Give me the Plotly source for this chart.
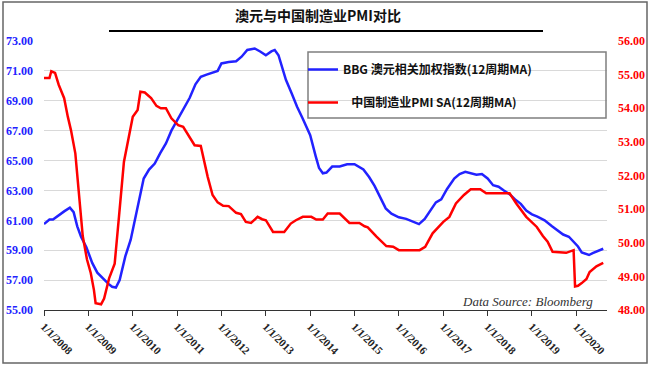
import plotly.graph_objects as go

# ---- Data ----
aud_dates = [
    "2008-01-01", "2008-02-15", "2008-03-15", "2008-05-01", "2008-06-15", "2008-08-01",
    "2008-09-01", "2008-10-01", "2008-11-01", "2008-12-15", "2009-02-01", "2009-03-15",
    "2009-05-01", "2009-06-15", "2009-07-15", "2009-08-15", "2009-09-15", "2009-11-01",
    "2009-12-15", "2010-02-01", "2010-03-01", "2010-04-01", "2010-05-15", "2010-07-01",
    "2010-08-15", "2010-10-01", "2010-11-15", "2011-01-01", "2011-02-15", "2011-04-15",
    "2011-06-01", "2011-07-15", "2011-09-01", "2011-11-01", "2011-12-01", "2012-01-01",
    "2012-03-01", "2012-05-01", "2012-06-15", "2012-08-01", "2012-10-01", "2012-11-15",
    "2013-01-01", "2013-02-15", "2013-03-15", "2013-04-15", "2013-05-15", "2013-06-15",
    "2013-08-01", "2013-09-15", "2013-11-01", "2014-01-01", "2014-02-15", "2014-03-15",
    "2014-04-15", "2014-05-15", "2014-07-01", "2014-09-01", "2014-11-01", "2015-01-01",
    "2015-03-15", "2015-05-01", "2015-06-15", "2015-08-01", "2015-09-15", "2015-11-01",
    "2016-01-01", "2016-03-01", "2016-04-15", "2016-06-15", "2016-08-01", "2016-09-15",
    "2016-11-01", "2016-12-15", "2017-02-01", "2017-04-01", "2017-05-15", "2017-07-01",
    "2017-08-15", "2017-10-01", "2017-11-15", "2018-01-01", "2018-02-15", "2018-04-01",
    "2018-05-15", "2018-07-01", "2018-08-15", "2018-10-01", "2018-11-15", "2019-01-01",
    "2019-02-15", "2019-04-15", "2019-06-15", "2019-08-01", "2019-09-15", "2019-11-01",
    "2019-12-15", "2020-01-15", "2020-02-15", "2020-04-15", "2020-05-15", "2020-07-01",
    "2020-08-10",
]
aud_values = [
    60.75, 61.05, 61.05, 61.35, 61.6, 61.85,
    61.55, 60.6, 59.9, 59.2, 58.15, 57.5,
    57.1, 56.75, 56.55, 56.5, 57.0, 58.6,
    59.7, 61.5, 62.6, 63.8, 64.4, 64.8,
    65.5, 66.15, 67.0, 67.7, 68.3, 69.2,
    70.1, 70.6, 70.75, 70.95, 71.0, 71.5,
    71.6, 71.65, 71.95, 72.4, 72.5, 72.3,
    72.05, 72.3, 72.4, 72.05, 71.2, 70.4,
    69.5, 68.6, 67.8, 66.7, 65.3, 64.5,
    64.15, 64.2, 64.6, 64.6, 64.75, 64.75,
    64.4, 63.9, 63.3, 62.5, 61.8, 61.45,
    61.2, 61.1, 60.95, 60.75, 61.1, 61.6,
    62.2, 62.4, 63.1, 63.8, 64.1, 64.25,
    64.15, 64.05, 64.1, 63.8, 63.35, 63.25,
    63.0, 62.75, 62.4, 62.1, 61.65, 61.4,
    61.25, 61.0, 60.6, 60.35, 60.05, 59.9,
    59.5, 59.25, 58.85, 58.68, 58.8, 58.95,
    59.1,
]

pmi_dates = [
    "2008-01-01", "2008-02-15", "2008-03-01", "2008-04-01", "2008-05-01", "2008-06-15",
    "2008-07-15", "2008-08-10", "2008-09-15", "2008-10-15", "2008-11-15", "2008-12-20",
    "2009-01-20", "2009-02-15", "2009-03-01", "2009-04-15", "2009-05-10", "2009-06-20",
    "2009-08-05", "2009-09-10", "2009-10-20", "2010-01-01", "2010-02-10", "2010-03-05",
    "2010-04-10", "2010-06-01", "2010-07-15", "2010-08-20", "2010-10-01", "2010-11-15",
    "2011-01-10", "2011-02-20", "2011-04-10", "2011-05-25", "2011-07-15", "2011-08-01",
    "2011-09-10", "2011-10-20", "2011-12-01", "2012-01-15", "2012-03-01", "2012-05-01",
    "2012-06-10", "2012-07-20", "2012-09-01", "2012-10-25", "2012-12-01", "2013-01-01",
    "2013-03-01", "2013-06-01", "2013-07-25", "2013-09-05", "2013-11-01", "2014-01-10",
    "2014-02-20", "2014-04-15", "2014-05-25", "2014-09-01", "2014-11-20", "2015-02-10",
    "2015-03-25", "2015-04-20", "2015-07-01", "2015-09-20", "2015-11-15", "2016-01-01",
    "2016-06-20", "2016-08-05", "2016-10-05", "2017-01-01", "2017-02-20", "2017-04-15",
    "2017-06-20", "2017-08-15", "2017-11-01", "2017-12-20", "2018-07-01", "2018-08-25",
    "2018-11-15", "2019-02-10", "2019-04-01", "2019-05-10", "2019-06-20", "2019-10-10",
    "2019-12-10", "2019-12-22", "2020-01-15", "2020-02-15", "2020-03-25", "2020-04-20",
    "2020-06-15", "2020-08-10",
]
pmi_values = [
    54.9, 54.9, 55.1, 55.05, 54.7, 54.3,
    53.75, 53.35, 52.66, 51.4, 50.2, 49.5,
    49.1, 48.6, 48.2, 48.17, 48.34, 48.94,
    49.38, 50.8, 52.4, 53.75, 53.95, 54.49,
    54.47, 54.3, 54.07, 54.0, 54.0, 53.7,
    53.5, 53.45, 53.15, 52.9, 52.88, 52.6,
    51.96, 51.42, 51.2, 51.1, 51.09, 50.89,
    50.85, 50.62, 50.59, 50.77, 50.7, 50.67,
    50.32, 50.32, 50.57, 50.67, 50.77, 50.77,
    50.69, 50.69, 50.87, 50.87, 50.59, 50.59,
    50.49, 50.46, 50.18, 49.9, 49.88, 49.78,
    49.78, 49.88, 50.28, 50.62, 50.77, 51.17,
    51.42, 51.59, 51.59, 51.47, 51.47, 51.17,
    50.77, 50.47, 50.2, 50.03, 49.73, 49.7,
    49.78, 48.7, 48.72, 48.8, 48.92, 49.13,
    49.3, 49.4,
]

year_ticks = ["%d-01-01" % y for y in range(2008, 2021)]

aud_name = "BBG 澳元相关加权指数(12周期MA)"
pmi_name = "\u00a0\u00a0\u00a0中国制造业PMI SA(12周期MA)"
title_text = "澳元与中国制造业PMI对比"
source_text = "Data Source: Bloomberg"

# ---- Figure ----
L, R, T, B = 44, 42, 41, 56
W, H = 649, 366
pw, ph = W - L - R, H - T - B

def px(x):
    return (x - L) / pw

def py(y):
    return (H - B - y) / ph

fig = go.Figure()
fig.add_trace(go.Scatter(
    x=aud_dates, y=aud_values, name=aud_name, mode="lines",
    line=dict(color="#2222ff", width=2.5), yaxis="y", legendgroup="a",
))
fig.add_trace(go.Scatter(
    x=pmi_dates, y=pmi_values, name=pmi_name, mode="lines",
    line=dict(color="#ff0000", width=2.5), yaxis="y2", legendgroup="b",
))

serif = "Liberation Serif, Times New Roman, serif"
cjk = "Noto Sans CJK SC, sans-serif"

fig.update_layout(
    width=W, height=H,
    margin=dict(l=L, r=R, t=T, b=B, autoexpand=False),
    paper_bgcolor="white", plot_bgcolor="white",
    showlegend=True,
    xaxis=dict(
        type="date", range=["2008-01-01", "2020-09-10"], automargin=False,
        tickvals=year_ticks, tickformat="%-m/%-d/%Y", tickangle=45,
        ticks="outside", ticklen=5, tickcolor="#333", showline=True,
        linecolor="#333", linewidth=1, showgrid=False, zeroline=False,
        tickfont=dict(family=serif, size=11, color="#222", weight="bold"),
    ),
    yaxis=dict(
        range=[55, 73], dtick=2, tick0=55, tickformat=".2f", automargin=False,
        showgrid=True, gridcolor="#d9d9d9", gridwidth=1, zeroline=False,
        showline=False, ticks="", ticklabelstandoff=10,
        tickfont=dict(family=serif, size=12, color="#2222ff", weight="bold"),
    ),
    yaxis2=dict(
        range=[48, 56], dtick=1, tick0=48, tickformat=".2f", automargin=False,
        overlaying="y", side="right", showgrid=False, zeroline=False,
        showline=False, ticks="", ticklabelstandoff=10,
        tickfont=dict(family=serif, size=12, color="#ff0000", weight="bold"),
    ),
    legend=dict(
        x=px(303), y=py(55), xanchor="left", yanchor="top",
        bgcolor="rgba(0,0,0,0)", borderwidth=0, itemwidth=30,
        tracegroupgap=14, traceorder="grouped",
        font=dict(family=cjk, size=12, color="#111", weight="bold"),
    ),
    shapes=[
        dict(type="rect", xref="paper", yref="paper",
             x0=px(308), x1=px(606), y0=py(118), y1=py(52),
             line=dict(color="#7f7f7f", width=1.5), fillcolor="rgba(0,0,0,0)", layer="above"),
        dict(type="line", xref="paper", yref="paper",
             x0=px(109), x1=px(543), y0=py(31), y1=py(31),
             line=dict(color="black", width=2)),
        dict(type="rect", xref="paper", yref="paper",
             x0=px(3), x1=px(647), y0=py(363), y1=py(2),
             line=dict(color="#666", width=1.5), fillcolor="rgba(0,0,0,0)"),
    ],
    annotations=[
        dict(text=title_text, xref="paper", yref="paper", x=px(318), y=py(15),
             xanchor="center", yanchor="middle", showarrow=False,
             font=dict(family=cjk, size=14, color="#111", weight="bold")),
        dict(text=source_text, xref="paper", yref="paper", x=px(527), y=py(301),
             xanchor="center", yanchor="middle", showarrow=False,
             font=dict(family=serif, size=13, color="#333", style="italic")),
    ],
)

fig.write_html(
    "out.html",
    config={"displayModeBar": False},
    post_script="document.body.style.margin='0';document.body.style.overflow='hidden';",
)
